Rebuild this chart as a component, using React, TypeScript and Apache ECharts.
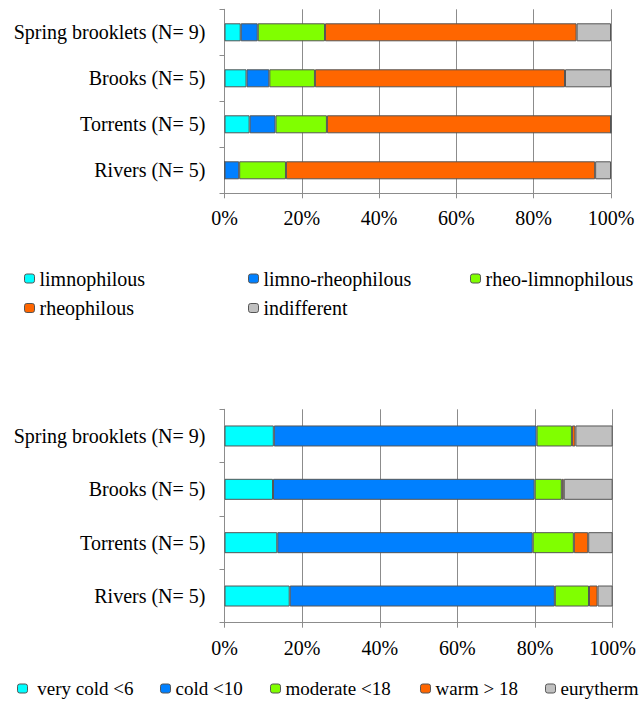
import React, { useEffect, useRef } from "react";
import * as echarts from "echarts";

const categories = ["Spring brooklets (N= 9)", "Brooks (N= 5)", "Torrents (N= 5)", "Rivers (N= 5)"];
const xTicks = [0, 20, 40, 60, 80, 100];

// Top chart: current preference
const topNames = ["limnophilous", "limno-rheophilous", "rheo-limnophilous", "rheophilous", "indifferent"];
const limnophilous = [4.2, 5.7, 6.5, 0];
const limnoRheophilous = [4.4, 5.9, 6.7, 3.8];
const rheoLimnophilous = [17.4, 11.8, 13.3, 12.1];
const rheophilous = [65.1, 64.7, 73.5, 80.0];
const indifferent = [8.9, 11.9, 0, 4.1];

// Bottom chart: temperature preference
const botNames = ["very cold <6", "cold <10", "moderate <18", "warm > 18", "eurytherm"];
const veryCold = [12.7, 12.5, 13.6, 16.8];
const cold = [67.7, 67.4, 65.8, 68.3];
const moderate = [9.1, 7.0, 10.6, 8.8];
const warm = [0.9, 0.5, 3.7, 2.2];
const eurytherm = [9.6, 12.6, 6.3, 3.9];

const colors = ["#00FFFF", "#0080FF", "#80FF00", "#FF6600", "#C0C0C0"];

const FONT = "Liberation Serif";
const FS = 20;
const GRID_COLOR = "#8c8c8c";

export default function App() {
  const ref = useRef<HTMLDivElement>(null);
  useEffect(() => {
    if (!ref.current) return;
    const chart = echarts.init(ref.current, null, { renderer: "svg" });

    const makeX = (gridIndex: number) => ({
      type: "value",
      gridIndex,
      min: 0,
      max: 100,
      interval: 20,
      axisLine: { show: true, lineStyle: { color: GRID_COLOR, width: 1 } },
      axisTick: { show: true, length: 5, lineStyle: { color: GRID_COLOR } },
      splitLine: { show: true, lineStyle: { color: GRID_COLOR, width: 1 } },
      axisLabel: {
        fontFamily: FONT,
        fontSize: FS,
        color: "#000",
        margin: 15,
        formatter: (v: number) => (xTicks.includes(v) ? v + "%" : ""),
      },
    });
    const makeY = (gridIndex: number) => ({
      type: "category",
      gridIndex,
      inverse: true,
      data: categories,
      axisLine: { show: true, lineStyle: { color: GRID_COLOR, width: 1 } },
      axisTick: { show: true, length: 5, lineStyle: { color: GRID_COLOR } },
      axisLabel: { fontFamily: FONT, fontSize: FS, color: "#000", margin: 19 },
    });

    const topData = [limnophilous, limnoRheophilous, rheoLimnophilous, rheophilous, indifferent];
    const botData = [veryCold, cold, moderate, warm, eurytherm];

    const series: any[] = [];
    topNames.forEach((n, i) => {
      series.push({
        type: "bar",
        name: n,
        stack: "top",
        xAxisIndex: 0,
        yAxisIndex: 0,
        barWidth: 18,
        data: topData[i],
        itemStyle: { color: colors[i], borderColor: "#555", borderWidth: 1 },
      });
    });
    botNames.forEach((n, i) => {
      series.push({
        type: "bar",
        name: n,
        stack: "bot",
        xAxisIndex: 1,
        yAxisIndex: 1,
        barWidth: 21,
        data: botData[i],
        itemStyle: { color: colors[i], borderColor: "#555", borderWidth: 1 },
      });
    });

    const legendPos: [string, number, number, number][] = [
      ["limnophilous", 24, 268.5, 20],
      ["limno-rheophilous", 248, 268.5, 20],
      ["rheo-limnophilous", 470, 268.5, 20],
      ["rheophilous", 24, 298, 20],
      ["indifferent", 248, 298, 20],
      ["very cold <6", 17, 679, 19],
      ["cold <10", 160, 679, 19],
      ["moderate <18", 270, 679, 19],
      ["warm > 18", 420, 679, 19],
      ["eurytherm", 545, 679, 19],
    ];
    const legend = legendPos.map(([name, left, top, fs]) => ({
      data: [name],
      left,
      top,
      padding: 0,
      itemWidth: 10,
      itemHeight: 9,
      selectedMode: false,
      itemStyle: { borderColor: "#555", borderWidth: 1 },
      formatter: (n: string) => (n === "very cold <6" ? "\u00a0" + n : n),
      textStyle: { fontFamily: FONT, fontSize: fs, color: "#000" },
    }));

    chart.setOption({
      animation: false,
      backgroundColor: "#fff",
      textStyle: { fontFamily: FONT, fontSize: FS },
      grid: [
        { left: 224.5, width: 386.5, top: 9.3, height: 184 },
        { left: 224.5, width: 388.5, top: 409.3, height: 213.4 },
      ],
      xAxis: [makeX(0), makeX(1)],
      yAxis: [makeY(0), makeY(1)],
      legend,
      series,
    });
    return () => chart.dispose();
  }, []);
  return (
    <div
      ref={ref}
      style={{ position: "fixed", left: 0, top: 0, width: 639, height: 704, background: "#fff" }}
    />
  );
}
